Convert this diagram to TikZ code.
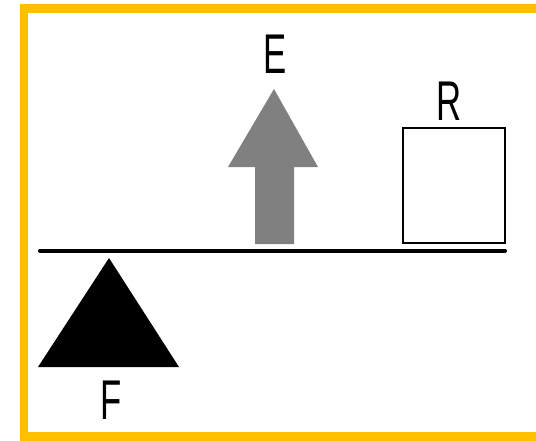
\documentclass[tikz,border=0pt]{standalone}
\usepackage{fontspec}
\setmainfont{Liberation Sans}
\usetikzlibrary{positioning}
\definecolor{framegold}{HTML}{FFC000}
\definecolor{effortgray}{HTML}{808080}

\begin{document}
\begin{tikzpicture}[
  x=0.75pt, y=-0.75pt,
  letter/.style={font=\fontsize{42}{42}\selectfont, inner sep=0pt, anchor=base, xscale=0.62},
  frame/.style={draw=framegold, line width=6.5pt},
  beam/.style={line width=3pt, line cap=round}
]
\useasboundingbox (0,0) rectangle (536,440);

% ===== Frame =====
\draw[frame] (536,8.5) -- (24,8.5) -- (24,436.5) -- (536,436.5);

% ===== Lever =====
\draw[beam] (40,250.5) -- (505,250.5);

% ===== Fulcrum =====
\fill (109,258) -- (179,367) -- (38,367) -- cycle;
\node[letter] (fulcrum) at (111,419) {F};

% ===== Effort =====
\fill[effortgray] (274,89) -- (318,167) -- (294,167) -- (294,244)
  -- (255,244) -- (255,167) -- (228,167) -- cycle;
\node[letter] (effort) at (275,73) {E};

% ===== Load =====
\draw[line width=1.9pt] (403,128) rectangle (505,243);
\node[letter] (load) at (449,120) {R};

\end{tikzpicture}
\end{document}
